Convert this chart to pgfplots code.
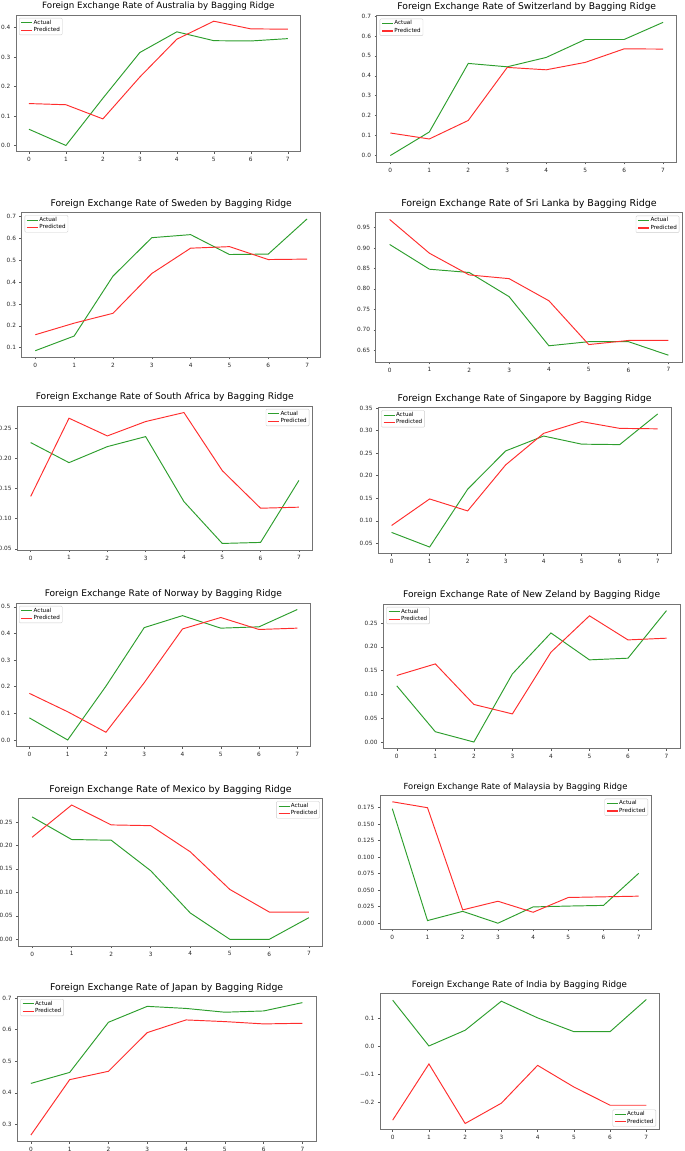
\documentclass[border=0pt]{standalone}
\usepackage{fontspec}
\setmainfont{DejaVu Sans}
\usepackage{pgfplots}
\pgfplotsset{compat=1.18}
\definecolor{actg}{RGB}{45,158,45}
\definecolor{predr}{RGB}{255,45,45}
\pgfplotsset{
  every axis title/.style={at={(0.5,1)}, anchor=base, yshift=6pt, inner sep=0pt},
  fx/.style={
    scale only axis, anchor=south west,
    xmin=-0.35, xmax=7.35, enlarge x limits=false, enlarge y limits=0.05,
    xtick={0,1,2,3,4,5,6,7},
    tick pos=left, tick align=outside, major tick length=2.2pt,
    minor tick num=0,
    axis line style={black!55, line width=0.6pt},
    tick style={black!65, line width=0.5pt},
    /pgf/number format/assume math mode=true,
    tick label style={font=\fontsize{5.8}{6}\selectfont, color=black!85},
    legend cell align=left,
    legend style={draw=black!20, rounded corners=1pt, fill=white, inner xsep=1.5pt, inner ysep=1pt, font=\fontsize{5.6}{6.5}\selectfont, nodes={inner sep=0.8pt}},
    legend image code/.code={\draw[##1, line width=1.2pt] (0pt,0pt) -- (11pt,0pt);},
  },
  ul/.style={legend style={at={(0,1)}, anchor=north west, xshift=3pt, yshift=-3pt}},
  ur/.style={legend style={at={(1,1)}, anchor=north east, xshift=-3pt, yshift=-3pt}},
  lr/.style={legend style={at={(1,0)}, anchor=south east, xshift=-3pt, yshift=3pt}},
  act/.style={color=actg, line width=0.95pt},
  prd/.style={color=predr, line width=0.95pt},
  yp/.style={yticklabel style={/pgf/number format/.cd, fixed, fixed zerofill, precision=#1}},
  tf/.style={title style={font=\fontsize{#1}{#1}\selectfont}},
}
\begin{document}
\begin{tikzpicture}
\useasboundingbox (0,0) rectangle (685pt,1151pt);

% 1 Australia
\begin{axis}[fx, ul, tf=8.7, at={(16pt,999.3pt)}, width=284.7pt, height=136.7pt,
  title={Foreign Exchange Rate of Australia by Bagging Ridge},
  ytick={0,0.1,0.2,0.3,0.4}, yp=1]
\addplot[act] coordinates {(0,0.055)(1,0.0)(2,0.16)(3,0.315)(4,0.385)(5,0.355)(6,0.354)(7,0.362)};
\addplot[prd] coordinates {(0,0.142)(1,0.138)(2,0.090)(3,0.232)(4,0.360)(5,0.421)(6,0.395)(7,0.394)};
\legend{Actual,Predicted}
\end{axis}

% 2 Switzerland
\begin{axis}[fx, ul, tf=9.2, at={(376.7pt,988.8pt)}, width=300pt, height=146.5pt,
  title={Foreign Exchange Rate of Switzerland by Bagging Ridge},
  ytick={0,0.1,0.2,0.3,0.4,0.5,0.6,0.7}, yp=1]
\addplot[act] coordinates {(0,0.0)(1,0.118)(2,0.462)(3,0.445)(4,0.492)(5,0.582)(6,0.582)(7,0.668)};
\addplot[prd] coordinates {(0,0.113)(1,0.083)(2,0.176)(3,0.442)(4,0.430)(5,0.467)(6,0.535)(7,0.534)};
\legend{Actual,Predicted}
\end{axis}

% 3 Sweden
\begin{axis}[fx, ul, tf=9.2, at={(21.7pt,793.7pt)}, width=299pt, height=145pt,
  title={Foreign Exchange Rate of Sweden by Bagging Ridge},
  ytick={0.1,0.2,0.3,0.4,0.5,0.6,0.7}, yp=1]
\addplot[act] coordinates {(0,0.086)(1,0.153)(2,0.427)(3,0.603)(4,0.617)(5,0.526)(6,0.528)(7,0.689)};
\addplot[prd] coordinates {(0,0.159)(1,0.212)(2,0.257)(3,0.439)(4,0.555)(5,0.562)(6,0.503)(7,0.505)};
\legend{Actual,Predicted}
\end{axis}

% 4 Sri Lanka
\begin{axis}[fx, ur, tf=9.5, at={(375.7pt,789pt)}, width=306.6pt, height=149.3pt,
  title={Foreign Exchange Rate of Sri Lanka by Bagging Ridge},
  ytick={0.65,0.70,0.75,0.80,0.85,0.90,0.95}, yp=2]
\addplot[act] coordinates {(0,0.9085)(1,0.848)(2,0.840)(3,0.781)(4,0.661)(5,0.671)(6,0.671)(7,0.638)};
\addplot[prd] coordinates {(0,0.9695)(1,0.887)(2,0.834)(3,0.825)(4,0.771)(5,0.664)(6,0.674)(7,0.674)};
\legend{Actual,Predicted}
\end{axis}

% 5 South Africa
\begin{axis}[fx, ur, tf=9.1, at={(17.3pt,601pt)}, width=295pt, height=144pt,
  title={Foreign Exchange Rate of South Africa by Bagging Ridge},
  ytick={0.05,0.10,0.15,0.20,0.25}, yp=2]
\addplot[act] coordinates {(0,0.2257)(1,0.1925)(2,0.219)(3,0.2356)(4,0.128)(5,0.0588)(6,0.0605)(7,0.163)};
\addplot[prd] coordinates {(0,0.1367)(1,0.266)(2,0.2367)(3,0.2605)(4,0.2754)(5,0.1793)(6,0.1171)(7,0.1188)};
\legend{Actual,Predicted}
\end{axis}

% 6 Singapore
\begin{axis}[fx, ul, tf=9.3, at={(378.3pt,597.3pt)}, width=292.7pt, height=146.4pt,
  title={Foreign Exchange Rate of Singapore by Bagging Ridge},
  ytick={0.05,0.10,0.15,0.20,0.25,0.30,0.35}, yp=2]
\addplot[act] coordinates {(0,0.0743)(1,0.0419)(2,0.170)(3,0.255)(4,0.288)(5,0.270)(6,0.269)(7,0.337)};
\addplot[prd] coordinates {(0,0.0897)(1,0.1485)(2,0.122)(3,0.224)(4,0.294)(5,0.320)(6,0.305)(7,0.304)};
\legend{Actual,Predicted}
\end{axis}

% 7 Norway
\begin{axis}[fx, ul, tf=9.1, at={(16pt,404.5pt)}, width=294.7pt, height=143.5pt,
  title={Foreign Exchange Rate of Norway by Bagging Ridge},
  ytick={0,0.1,0.2,0.3,0.4,0.5}, yp=1]
\addplot[act] coordinates {(0,0.083)(1,0.0)(2,0.202)(3,0.422)(4,0.467)(5,0.420)(6,0.425)(7,0.490)};
\addplot[prd] coordinates {(0,0.175)(1,0.106)(2,0.029)(3,0.215)(4,0.417)(5,0.460)(6,0.415)(7,0.420)};
\legend{Actual,Predicted}
\end{axis}

% 8 New Zeland
\begin{axis}[fx, ul, tf=9.1, at={(383.3pt,402.4pt)}, width=296.7pt, height=144.6pt,
  title={Foreign Exchange Rate of New Zeland by Bagging Ridge},
  ytick={0,0.05,0.10,0.15,0.20,0.25}, yp=2]
\addplot[act] coordinates {(0,0.118)(1,0.0216)(2,0.0)(3,0.143)(4,0.229)(5,0.1725)(6,0.176)(7,0.276)};
\addplot[prd] coordinates {(0,0.1397)(1,0.164)(2,0.0789)(3,0.059)(4,0.1885)(5,0.265)(6,0.2144)(7,0.218)};
\legend{Actual,Predicted}
\end{axis}

% 9 Mexico
\begin{axis}[fx, ur, tf=9.4, at={(18.3pt,205pt)}, width=304.4pt, height=147.7pt,
  title={Foreign Exchange Rate of Mexico by Bagging Ridge},
  ytick={0,0.05,0.10,0.15,0.20,0.25}, yp=2]
\addplot[act] coordinates {(0,0.2606)(1,0.2125)(2,0.211)(3,0.146)(4,0.056)(5,0.0)(6,0.0)(7,0.046)};
\addplot[prd] coordinates {(0,0.2174)(1,0.286)(2,0.2436)(3,0.242)(4,0.1863)(5,0.1062)(6,0.058)(7,0.058)};
\legend{Actual,Predicted}
\end{axis}

% 10 Malaysia
\begin{axis}[fx, ur, tf=8.4, at={(380pt,221.7pt)}, width=271pt, height=133.6pt,
  title={Foreign Exchange Rate of Malaysia by Bagging Ridge},
  ytick={0,0.025,0.05,0.075,0.1,0.125,0.15,0.175}, yp=3]
\addplot[act] coordinates {(0,0.1735)(1,0.004)(2,0.018)(3,0.0)(4,0.0247)(5,0.026)(6,0.027)(7,0.0756)};
\addplot[prd] coordinates {(0,0.184)(1,0.175)(2,0.0202)(3,0.0333)(4,0.0166)(5,0.039)(6,0.040)(7,0.041)};
\legend{Actual,Predicted}
\end{axis}

% 11 Japan
\begin{axis}[fx, ul, tf=9.3, at={(17.3pt,9.3pt)}, width=298.7pt, height=145.7pt,
  title={Foreign Exchange Rate of Japan by Bagging Ridge},
  ytick={0.3,0.4,0.5,0.6,0.7}, yp=1]
\addplot[act] coordinates {(0,0.4296)(1,0.4644)(2,0.6232)(3,0.6736)(4,0.667)(5,0.655)(6,0.659)(7,0.6854)};
\addplot[prd] coordinates {(0,0.266)(1,0.4415)(2,0.468)(3,0.5905)(4,0.6306)(5,0.6253)(6,0.618)(7,0.620)};
\legend{Actual,Predicted}
\end{axis}

% 12 India
\begin{axis}[fx, lr, tf=8.7, at={(380pt,21.3pt)}, width=279pt, height=136.4pt,
  title={Foreign Exchange Rate of India by Bagging Ridge},
  ytick={-0.2,-0.1,0,0.1}, yticklabels={−0.2,−0.1,0.0,0.1}]
\addplot[act] coordinates {(0,0.163)(1,0.0)(2,0.056)(3,0.1595)(4,0.100)(5,0.051)(6,0.051)(7,0.1655)};
\addplot[prd] coordinates {(0,-0.264)(1,-0.064)(2,-0.276)(3,-0.2036)(4,-0.069)(5,-0.146)(6,-0.211)(7,-0.211)};
\legend{Actual,Predicted}
\end{axis}
\end{tikzpicture}
\end{document}
